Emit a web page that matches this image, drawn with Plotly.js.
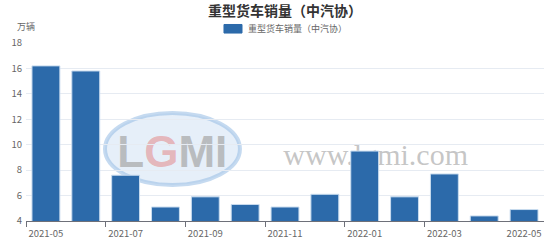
<!DOCTYPE html>
<html>
<head>
<meta charset="utf-8">
<script src="https://cdn.plot.ly/plotly-3.0.1.min.js"></script>
<style>html,body{margin:0;padding:0;background:#fff;}#chart{width:554px;height:240px;}</style>
</head>
<body>
<div id="chart"></div>
<script>
const months = ['2021-05','2021-06','2021-07','2021-08','2021-09','2021-10','2021-11','2021-12','2022-01','2022-02','2022-03','2022-04','2022-05'];
const sales = [16.2, 15.8, 7.6, 5.1, 5.9, 5.3, 5.1, 6.1, 9.5, 5.9, 7.7, 4.4, 4.9];
const seriesName = '重型货车销量（中汽协）';
const unitLabel = '万辆';
const yTicks = [4, 6, 8, 10, 12, 14, 16, 18];

const F = '"Noto Sans CJK SC", "Noto Sans", sans-serif';
const idx = months.map((_, i) => i);
const labelIdx = idx.filter(i => i % 2 === 0);
const boundaryIdx = labelIdx.filter(i => i < months.length - 1).map(i => i - 0.5);

const trace = {
  type: 'bar',
  x: idx,
  y: sales,
  name: seriesName,
  marker: {color: '#2c6aaa', line: {color: '#c9dcef', width: 1}},
  hoverinfo: 'y',
  showlegend: false
};

const layout = {
  width: 554, height: 240,
  margin: {l: 26, r: 10, t: 43, b: 19},
  paper_bgcolor: '#fff', plot_bgcolor: '#fff',
  bargap: 0.3,
  font: {family: F, size: 9.5, color: '#666'},
  title: {text: '<b>' + seriesName + '</b>', font: {family: F, size: 14, color: '#333'},
          x: 0.5, xref: 'paper', xanchor: 'center', y: 0.952, yref: 'container', yanchor: 'middle'},
  xaxis: {
    type: 'linear', range: [-0.5, months.length - 0.5],
    tickmode: 'array', tickvals: labelIdx, ticktext: labelIdx.map(i => months[i]),
    ticks: '', showgrid: false, zeroline: false,
    showline: true, linecolor: '#6e7079', linewidth: 1,
    ticklabelstandoff: 4,
    tickfont: {family: F, size: 9.5, color: '#666'},
    minor: {tickmode: 'array', tickvals: boundaryIdx, ticks: 'outside', ticklen: 5, tickcolor: '#6e7079', tickwidth: 1, showgrid: false},
    fixedrange: true
  },
  yaxis: {
    range: [4, 18], tickmode: 'array', tickvals: yTicks,
    showgrid: true, gridcolor: '#e6ebf2', gridwidth: 1,
    zeroline: false, showline: false, ticks: '',
    ticklabelstandoff: 3,
    tickfont: {family: F, size: 9.5, color: '#666'},
    fixedrange: true
  },
  shapes: [
    {type: 'circle', xref: 'paper', yref: 'paper', x0: 0.1525, x1: 0.413, y0: 0.202, y1: 0.607,
     fillcolor: 'rgba(205,224,243,0.5)', line: {color: 'rgba(150,188,228,0.55)', width: 4}, layer: 'below'},
    {type: 'rect', xref: 'paper', yref: 'paper', x0: 0.16, x1: 0.405, y0: 0.25, y1: 0.58,
     line: {width: 0}, fillcolor: 'rgba(0,0,0,0)', layer: 'below',
     label: {text: '<b>L<span style="fill:rgba(226,120,120,0.7)">G</span>MI</b>', font: {family: 'Liberation Sans, sans-serif', size: 44, color: 'rgba(165,165,165,0.7)'}, textposition: 'middle center'}},
    {type: 'rect', xref: 'paper', yref: 'paper', x0: 0.5, x1: 0.85, y0: 0.3, y1: 0.48,
     line: {width: 0}, fillcolor: 'rgba(0,0,0,0)', layer: 'below',
     label: {text: 'www.lgmi.com', font: {family: 'Liberation Serif, serif', size: 30, color: 'rgba(160,160,160,0.6)'}, textposition: 'middle center'}},
    {type: 'rect', xref: 'paper', yref: 'paper', x0: 0.3822, x1: 0.417, y0: 1.056, y1: 1.104,
     fillcolor: '#2c6aaa', line: {color: '#2c6aaa', width: 1}}
  ],
  annotations: [
    {text: seriesName, xref: 'paper', yref: 'paper', x: 0.424, y: 1.08, xanchor: 'left', yanchor: 'middle',
     showarrow: false, font: {family: F, size: 9, color: '#666'}},
    {text: unitLabel, xref: 'paper', yref: 'paper', x: 0, y: 1.09, xanchor: 'center', yanchor: 'middle',
     showarrow: false, font: {family: F, size: 9, color: '#666'}}
  ]
};

Plotly.newPlot('chart', [trace], layout, {displayModeBar: false, staticPlot: true});
</script>
</body>
</html>
